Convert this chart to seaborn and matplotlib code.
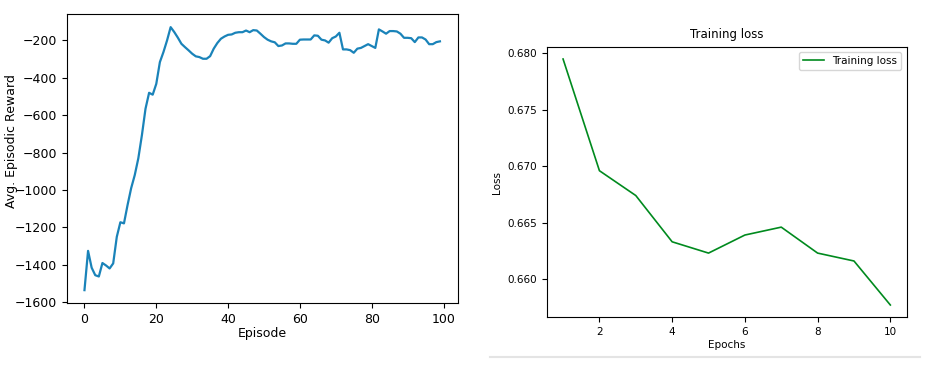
import matplotlib

matplotlib.use('Agg')
import matplotlib.pyplot as plt
import seaborn as sns
import pandas as pd
import numpy as np
from matplotlib.lines import Line2D

# ── data ───────────────────────────────────────────────
episode_rewards = [
    -1535, -1325, -1415, -1455, -1462, -1390, -1403, -1419, -1392, -1250,
    -1172, -1178, -1080, -990, -920, -830, -706, -565, -480, -490,
    -432, -316, -262, -200, -129, -155, -185, -218, -236, -253,
    -271, -285, -289, -298, -298, -284, -244, -214, -191, -179,
    -170, -168, -159, -156, -156, -147, -156, -145, -147, -164,
    -182, -196, -205, -210, -230, -227, -216, -216, -218, -218,
    -196, -195, -195, -195, -173, -175, -196, -200, -212, -188,
    -179, -159, -248, -248, -252, -266, -244, -240, -230, -220,
    -230, -240, -141, -152, -164, -150, -150, -152, -164, -186,
    -186, -188, -209, -184, -184, -195, -220, -220, -209, -205,
]
episodes = list(range(len(episode_rewards)))

epochs = [1, 2, 3, 4, 5, 6, 7, 8, 9, 10]
train_loss = [0.6795, 0.6696, 0.6674, 0.6633, 0.6623,
              0.6639, 0.6646, 0.6623, 0.6616, 0.6577]

BLUE = '#1a83b9'
GREEN = '#008a1e'

df_rew = pd.DataFrame({'Episode': episodes, 'reward': episode_rewards})
df_loss = pd.DataFrame({'Epochs': epochs, 'Loss': train_loss})

plt.rcParams['font.family'] = ['DejaVu Sans']

W, H = 933, 367
fig = plt.figure(figsize=(W / 100, H / 100), dpi=100)


def box(x0, y0, x1, y1):
    # pixel box (top-left origin) -> figure coords
    return [x0 / W, 1 - y1 / H, (x1 - x0) / W, (y1 - y0) / H]


# ── left: episodic reward ─────────────────────────────
ax1 = fig.add_axes(box(66.7, 14, 457.7, 303.3))
sns.lineplot(data=df_rew, x='Episode', y='reward', ax=ax1, color=BLUE, linewidth=1.6)
ax1.set_xlabel('Episode', fontsize=9, labelpad=1)
ax1.set_ylabel('Avg. Episodic Reward', fontsize=9)
ax1.yaxis.set_label_coords(-0.125, 0.56)
ax1.set_yticks(np.arange(-1600, -199, 200))
ax1.tick_params(labelsize=9)
ax1.set_xticks([0, 20, 40, 60, 80, 100])

# ── right: training loss ──────────────────────────────
ax2 = fig.add_axes(box(546.7, 46.7, 906.7, 317.3))
sns.lineplot(data=df_loss, x='Epochs', y='Loss', ax=ax2, color=GREEN, linewidth=1.2,
             label='Training loss')
ax2.set_title('Training loss', fontsize=8.5)
ax2.set_xlabel('Epochs', fontsize=7.5, labelpad=2)
ax2.set_ylabel('Loss', fontsize=7.5)
ax2.tick_params(labelsize=7.5)
ax2.legend(loc='upper right', fontsize=7.5)

# faint separator under the right panel
fig.add_artist(Line2D([490 / W, 920 / W], [1 - 357 / H, 1 - 357 / H],
                      color='#e4e4e4', linewidth=1.5))

plt.savefig('out.png', dpi=100)
